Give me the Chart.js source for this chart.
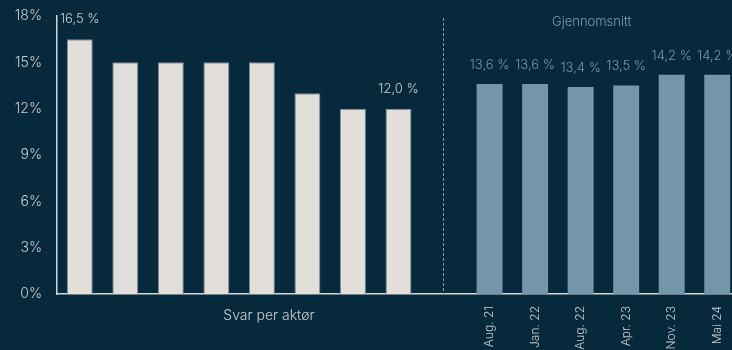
<!DOCTYPE html>
<html lang="no">
<head>
<meta charset="UTF-8">
<title>Svar per aktør og gjennomsnitt</title>
<script src="https://cdn.jsdelivr.net/npm/chart.js"></script>
<style>
  html, body { margin: 0; padding: 0; overflow: hidden; background: #062a3c; }
  #wrap { width: 740px; height: 350px; }
</style>
</head>
<body>
<div id="wrap"><canvas id="myChart" width="740" height="350"></canvas></div>
<script>
  // Enkeltsvar per aktør (uten navn) og gjennomsnitt per undersøkelse
  var svarPerAktor = [16.5, 15, 15, 15, 15, 13, 12, 12];
  var perioder = ['Aug. 21', 'Jan. 22', 'Aug. 22', 'Apr. 23', 'Nov. 23', 'Mai 24'];
  var gjennomsnitt = [13.6, 13.6, 13.4, 13.5, 14.2, 14.2];
  var yTicks = [0, 3, 6, 9, 12, 15, 18];
  var merketAktor = [0, 7]; // bare første og siste aktør får verdi

  var LYS = '#e2dfda';
  var BLA = '#7397a8';
  var TEKST = '#c9cdcf';
  var FONT = 'Inter, "Noto Sans", sans-serif';

  // en tom kategori mellom de to delene, der den stiplede linjen står
  var skille = svarPerAktor.length;
  var labels = svarPerAktor.map(function () { return ''; }).concat([''], perioder);
  var venstre = svarPerAktor.concat(new Array(perioder.length + 1).fill(null));
  var hoyre = new Array(skille + 1).fill(null).concat(gjennomsnitt);

  function fmt(v) {
    return v.toFixed(1).replace('.', ',') + ' %';
  }

  var verdiEtiketter = {
    id: 'verdiEtiketter',
    afterDatasetsDraw: function (chart) {
      var ctx = chart.ctx;
      ctx.save();
      ctx.font = '300 13px ' + FONT;
      ctx.textAlign = 'center';
      ctx.textBaseline = 'middle';
      chart.getDatasetMeta(0).data.forEach(function (bar, j) {
        if (merketAktor.indexOf(j) < 0 || venstre[j] == null) return;
        ctx.fillStyle = TEKST;
        ctx.fillText(fmt(venstre[j]), bar.x, bar.y - 20);
      });
      chart.getDatasetMeta(1).data.forEach(function (bar, j) {
        if (hoyre[j] == null) return;
        ctx.fillStyle = BLA;
        ctx.fillText(fmt(hoyre[j]), bar.x, bar.y - 19);
      });
      ctx.restore();
    }
  };

  var seksjoner = {
    id: 'seksjoner',
    afterDraw: function (chart) {
      var ctx = chart.ctx;
      var area = chart.chartArea;
      var x = chart.scales.x;
      var dx = Math.round(x.getPixelForValue(skille)) - 0.5;
      ctx.save();
      ctx.strokeStyle = '#8b9ba3';
      ctx.lineWidth = 1;
      ctx.setLineDash([3, 2]);
      ctx.beginPath();
      ctx.moveTo(dx, 18);
      ctx.lineTo(dx, area.bottom);
      ctx.stroke();
      ctx.setLineDash([]);

      ctx.font = '300 13px ' + FONT;
      ctx.textAlign = 'center';
      ctx.textBaseline = 'middle';
      ctx.fillStyle = '#7f9cab';
      ctx.fillText('Gjennomsnitt', (dx + area.right) / 2, 22);

      ctx.font = '300 14px ' + FONT;
      ctx.fillStyle = TEKST;
      ctx.fillText('Svar per aktør', x.getPixelForValue(4) + 7, 316);
      ctx.restore();
    }
  };

  var ctx = document.getElementById('myChart').getContext('2d');
  var myChart = new Chart(ctx, {
    type: 'bar',
    data: {
      labels: labels,
      datasets: [{
        label: 'Svar per aktør',
        data: venstre,
        backgroundColor: LYS,
        borderColor: '#7d8d95',
        borderWidth: 1,
        barPercentage: 0.57,
        categoryPercentage: 1
      }, {
        label: 'Gjennomsnitt',
        data: hoyre,
        backgroundColor: BLA,
        borderWidth: 0,
        barPercentage: 0.57,
        categoryPercentage: 1
      }]
    },
    options: {
      responsive: false,
      animation: false,
      layout: { padding: { top: 16, left: 0, right: 0, bottom: 0 } },
      plugins: {
        legend: { display: false },
        tooltip: { enabled: false }
      },
      scales: {
        x: {
          stacked: true,
          grid: { display: false, drawTicks: false },
          border: { display: true, color: '#d3d7d8', width: 1.5 },
          ticks: {
            color: TEKST,
            font: { family: FONT, size: 12, weight: 300 },
            minRotation: 90,
            maxRotation: 90,
            autoSkip: false,
            padding: 12
          },
          afterFit: function (scale) {
            scale.height = 56;
            scale.paddingLeft = 0;
            scale.paddingRight = 0;
          }
        },
        y: {
          stacked: true,
          min: 0,
          max: 18,
          grid: { display: false, drawTicks: false },
          border: { display: true, color: '#cfd3d5', width: 1.5 },
          afterBuildTicks: function (scale) {
            scale.ticks = yTicks.map(function (v) { return { value: v }; });
          },
          ticks: {
            color: TEKST,
            font: { family: FONT, size: 14, weight: 300 },
            padding: 15,
            callback: function (v) { return v + '%'; }
          },
          afterFit: function (scale) {
            scale.width = 57;
            scale.paddingTop = 0;
            scale.paddingBottom = 0;
          }
        }
      }
    },
    plugins: [verdiEtiketter, seksjoner]
  });
</script>
</body>
</html>
